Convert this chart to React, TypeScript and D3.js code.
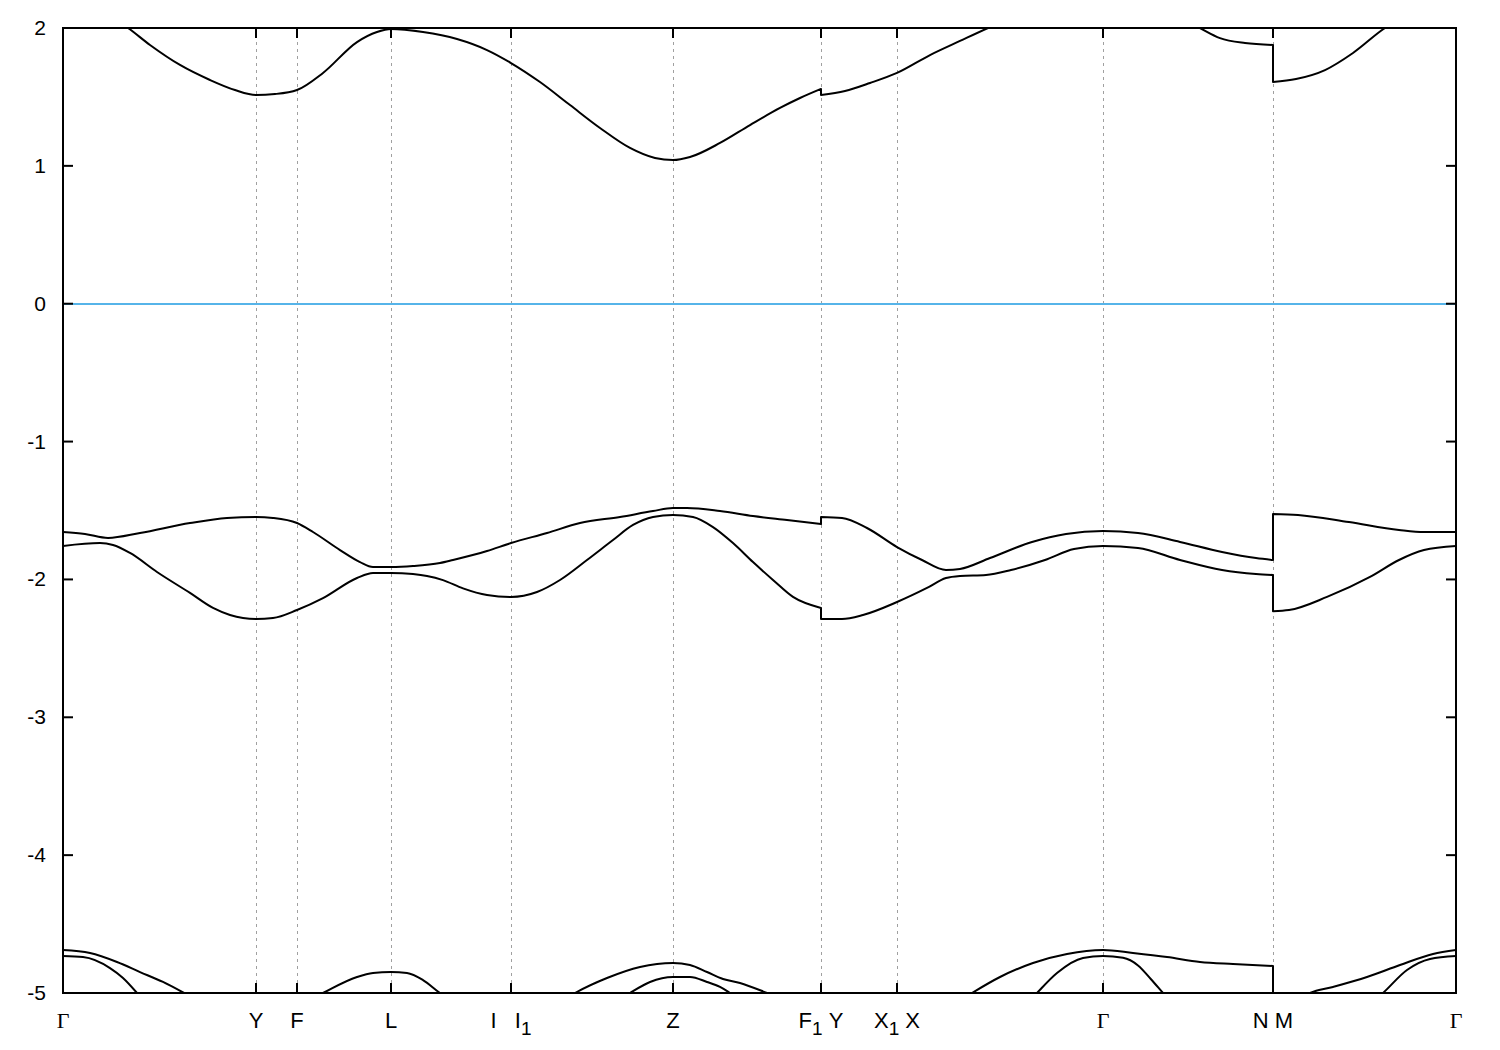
import React from "react";
import * as d3 from "d3";

type Pt = [number, number];

const width = 1500;
const height = 1050;
const plot = { left: 63, right: 1456, top: 28, bottom: 993 };

// high symmetry points along the k-path
const kTicks = [0, 0.193, 0.234, 0.328, 0.448, 0.61, 0.758, 0.834, 1.04, 1.21, 1.393];
const kLabels = ["Γ", "Y", "F", "L", "I   I_1", "Z", "F_1 Y", "X_1 X", "Γ", "N M", "Γ"];
const energyTicks = [-5, -4, -3, -2, -1, 0, 1, 2];

// conduction band (segments split at the path jumps)
const condA: Pt[] = [
  [0, 2.18], [0.035, 2.13], [0.065, 2.0], [0.087, 1.877], [0.117, 1.732], [0.147, 1.623],
  [0.172, 1.55], [0.193, 1.514], [0.212, 1.521], [0.234, 1.55], [0.26, 1.674], [0.294, 1.898],
  [0.314, 1.971], [0.328, 1.993], [0.36, 1.971], [0.394, 1.92], [0.424, 1.84], [0.448, 1.746],
  [0.477, 1.608], [0.507, 1.441], [0.537, 1.275], [0.567, 1.13], [0.592, 1.057], [0.61, 1.042],
  [0.627, 1.064], [0.657, 1.166], [0.687, 1.296], [0.717, 1.42], [0.737, 1.492], [0.758, 1.558],
];
const condB: Pt[] = [
  [0.758, 1.514], [0.782, 1.543], [0.807, 1.601], [0.834, 1.674], [0.867, 1.804], [0.897, 1.906],
  [0.925, 2.0], [0.957, 2.1], [1.04, 2.3], [1.107, 2.12], [1.137, 2.0], [1.157, 1.927],
  [1.182, 1.891], [1.21, 1.877],
];
const condC: Pt[] = [
  [1.21, 1.608], [1.233, 1.63], [1.262, 1.695], [1.29, 1.819], [1.322, 2.0], [1.357, 2.13],
  [1.393, 2.18],
];

// upper valence band
const valUpA: Pt[] = [
  [0, -1.656], [0.022, -1.67], [0.045, -1.699], [0.077, -1.663], [0.127, -1.591], [0.164, -1.554],
  [0.193, -1.547], [0.21, -1.554], [0.234, -1.591], [0.25, -1.656], [0.277, -1.787], [0.297, -1.874],
  [0.31, -1.91], [0.328, -1.91], [0.35, -1.903], [0.377, -1.881], [0.39, -1.859], [0.424, -1.794],
  [0.448, -1.736], [0.484, -1.663], [0.517, -1.591], [0.557, -1.547], [0.59, -1.504], [0.61, -1.482],
  [0.624, -1.482], [0.657, -1.504], [0.69, -1.54], [0.724, -1.569], [0.758, -1.598],
];
const valUpB: Pt[] = [
  [0.758, -1.547], [0.779, -1.554], [0.804, -1.627], [0.834, -1.765], [0.859, -1.859], [0.883, -1.932],
  [0.897, -1.924], [0.927, -1.845], [0.969, -1.728], [1.003, -1.67], [1.04, -1.649], [1.075, -1.663],
  [1.117, -1.728], [1.159, -1.801], [1.193, -1.845], [1.21, -1.859],
];
const valUpC: Pt[] = [
  [1.21, -1.525], [1.235, -1.532], [1.286, -1.584], [1.336, -1.641], [1.361, -1.656], [1.393, -1.656],
];

// lower valence band
const valLoA: Pt[] = [
  [0, -1.757], [0.037, -1.736], [0.05, -1.75], [0.067, -1.808], [0.094, -1.946], [0.127, -2.098],
  [0.15, -2.207], [0.167, -2.258], [0.193, -2.287], [0.21, -2.28], [0.234, -2.222], [0.26, -2.136],
  [0.294, -1.99], [0.31, -1.953], [0.328, -1.953], [0.35, -1.961], [0.364, -1.975], [0.38, -2.005],
  [0.4, -2.065], [0.424, -2.113], [0.448, -2.127], [0.474, -2.091], [0.497, -2.004], [0.524, -1.859],
  [0.55, -1.714], [0.57, -1.605], [0.59, -1.547], [0.61, -1.532], [0.63, -1.547], [0.65, -1.62],
  [0.67, -1.736], [0.69, -1.874], [0.71, -2.004], [0.73, -2.127], [0.758, -2.207],
];
const valLoB: Pt[] = [
  [0.758, -2.287], [0.779, -2.287], [0.8, -2.258], [0.834, -2.164], [0.864, -2.062], [0.883, -1.99],
  [0.897, -1.975], [0.923, -1.968], [0.948, -1.932], [0.982, -1.859], [1.011, -1.779], [1.04, -1.757],
  [1.075, -1.772], [1.117, -1.859], [1.159, -1.932], [1.193, -1.961], [1.21, -1.968],
];
const valLoC: Pt[] = [
  [1.21, -2.23], [1.226, -2.222], [1.264, -2.127], [1.307, -1.982], [1.336, -1.859], [1.361, -1.787],
  [1.393, -1.757],
];

// deep bands near the bottom edge
const deepUpA: Pt[] = [
  [0, -4.688], [0.027, -4.71], [0.054, -4.775], [0.077, -4.848], [0.1, -4.92], [0.121, -5.0],
  [0.187, -5.3], [0.26, -5.0], [0.294, -4.884], [0.31, -4.855], [0.328, -4.848], [0.344, -4.855],
  [0.36, -4.906], [0.377, -5.0], [0.43, -5.2], [0.48, -5.15], [0.512, -5.0], [0.544, -4.891],
  [0.577, -4.811], [0.61, -4.782], [0.627, -4.797], [0.644, -4.848], [0.66, -4.898], [0.677, -4.927],
  [0.704, -5.0], [0.737, -5.1], [0.758, -5.15],
];
const deepUpB: Pt[] = [
  [0.758, -5.3], [0.834, -5.25], [0.887, -5.1], [0.909, -5.0], [0.937, -4.884], [0.97, -4.782],
  [1.004, -4.717], [1.04, -4.688], [1.07, -4.71], [1.104, -4.739], [1.137, -4.775], [1.17, -4.79],
  [1.21, -4.804],
];
const deepUpC: Pt[] = [
  [1.21, -5.2], [1.247, -5.0], [1.27, -4.956], [1.304, -4.884], [1.337, -4.797], [1.37, -4.717],
  [1.393, -4.688],
];
const deepLoA: Pt[] = [
  [0, -4.732], [0.02, -4.739], [0.047, -4.819], [0.06, -4.891], [0.074, -5.0], [0.1, -5.25],
  [0.2, -5.6], [0.45, -5.5], [0.537, -5.15], [0.567, -5.0], [0.587, -4.92], [0.61, -4.884],
  [0.627, -4.884], [0.644, -4.92], [0.657, -4.956], [0.667, -5.0], [0.697, -5.15], [0.758, -5.3],
];
const deepLoB: Pt[] = [
  [0.758, -5.5], [0.937, -5.3], [0.974, -5.0], [0.994, -4.855], [1.02, -4.746], [1.04, -4.732],
  [1.06, -4.745], [1.075, -4.8], [1.088, -4.9], [1.1, -5.0], [1.137, -5.3], [1.21, -5.5],
];
const deepLoC: Pt[] = [
  [1.21, -5.5], [1.287, -5.2], [1.32, -5.0], [1.344, -4.833], [1.367, -4.753], [1.393, -4.732],
];

const bands: Pt[][][] = [
  [condA, condB, condC],
  [valUpA, valUpB, valUpC],
  [valLoA, valLoB, valLoC],
  [deepUpA, deepUpB, deepUpC],
  [deepLoA, deepLoB, deepLoC],
];

const sansFont = "'Liberation Sans', Arial, sans-serif";
const serifFont = "'Liberation Serif', 'Times New Roman', serif";

const Label = ({ text, x, y }: { text: string; x: number; y: number }) => {
  const parts = text.split(/(_\d)/).filter((p) => p.length > 0);
  let shifted = false;
  const isGreek = text === "Γ";
  return (
    <text
      x={x}
      y={y}
      textAnchor="middle"
      fontFamily={isGreek ? serifFont : sansFont}
      fontSize={22}
    >
      {parts.map((p, i) => {
        if (p.startsWith("_")) {
          shifted = true;
          return (
            <tspan key={i} dy={7} fontSize={19}>
              {p.slice(1)}
            </tspan>
          );
        }
        const dy = shifted ? -7 : 0;
        shifted = false;
        return (
          <tspan key={i} dy={dy}>
            {p.replace(/ /g, "\u00a0")}
          </tspan>
        );
      })}
    </text>
  );
};

export default function App() {
  const xScale = d3.scaleLinear().domain([0, 1.393]).range([plot.left, plot.right]);
  const yScale = d3.scaleLinear().domain([-5, 2]).range([plot.bottom, plot.top]);

  const line = d3
    .line<Pt>()
    .x((d) => xScale(d[0]))
    .y((d) => yScale(d[1]))
    .curve(d3.curveMonotoneX);

  // join the segments, the jump at a shared k becomes a vertical stroke
  const bandPath = (segs: Pt[][]) =>
    segs.map((s, i) => (i === 0 ? line(s)! : line(s)!.replace(/^M/, "L"))).join("");

  const tickLen = 10;

  return (
    <svg
      width={width}
      height={height}
      style={{ position: "absolute", left: 0, top: 0, background: "#fff" }}
    >
      <defs>
        <clipPath id="plot-area">
          <rect
            x={plot.left}
            y={plot.top}
            width={plot.right - plot.left}
            height={plot.bottom - plot.top}
          />
        </clipPath>
      </defs>

      {/* dashed lines at the symmetry points */}
      {kTicks.slice(1, -1).map((k, i) => (
        <line
          key={`grid/${i}`}
          x1={Math.round(xScale(k)) + 0.5}
          x2={Math.round(xScale(k)) + 0.5}
          y1={plot.top}
          y2={plot.bottom}
          stroke="#a0a0a0"
          strokeWidth={1}
          strokeDasharray="3,4"
          shapeRendering="crispEdges"
        />
      ))}

      {/* Fermi level */}
      <line
        x1={plot.left}
        x2={plot.right}
        y1={Math.round(yScale(0))}
        y2={Math.round(yScale(0))}
        stroke="#56b4e9"
        strokeWidth={2}
        shapeRendering="crispEdges"
      />

      <g clipPath="url(#plot-area)">
        {bands.map((segs, i) => (
          <path
            key={`band/${i}`}
            d={bandPath(segs)}
            fill="none"
            stroke="#000"
            strokeWidth={2}
            strokeLinejoin="round"
          />
        ))}
      </g>

      {/* ticks */}
      {energyTicks.map((e) => (
        <g key={`ytick/${e}`}>
          <line x1={plot.left} x2={plot.left + tickLen} y1={yScale(e)} y2={yScale(e)} stroke="#000" strokeWidth={2} />
          <line x1={plot.right - tickLen} x2={plot.right} y1={yScale(e)} y2={yScale(e)} stroke="#000" strokeWidth={2} />
          <text
            x={plot.left - 17}
            y={yScale(e) + 7}
            textAnchor="end"
            fontFamily={sansFont}
            fontSize={21}
          >
            {e}
          </text>
        </g>
      ))}
      {kTicks.map((k, i) => (
        <g key={`xtick/${i}`}>
          <line x1={xScale(k)} x2={xScale(k)} y1={plot.bottom} y2={plot.bottom - tickLen} stroke="#000" strokeWidth={2} />
          <line x1={xScale(k)} x2={xScale(k)} y1={plot.top} y2={plot.top + tickLen} stroke="#000" strokeWidth={2} />
          <Label text={kLabels[i]} x={xScale(k)} y={1028} />
        </g>
      ))}

      {/* frame */}
      <rect
        x={plot.left}
        y={plot.top}
        width={plot.right - plot.left}
        height={plot.bottom - plot.top}
        fill="none"
        stroke="#000"
        strokeWidth={2}
      />
    </svg>
  );
}
